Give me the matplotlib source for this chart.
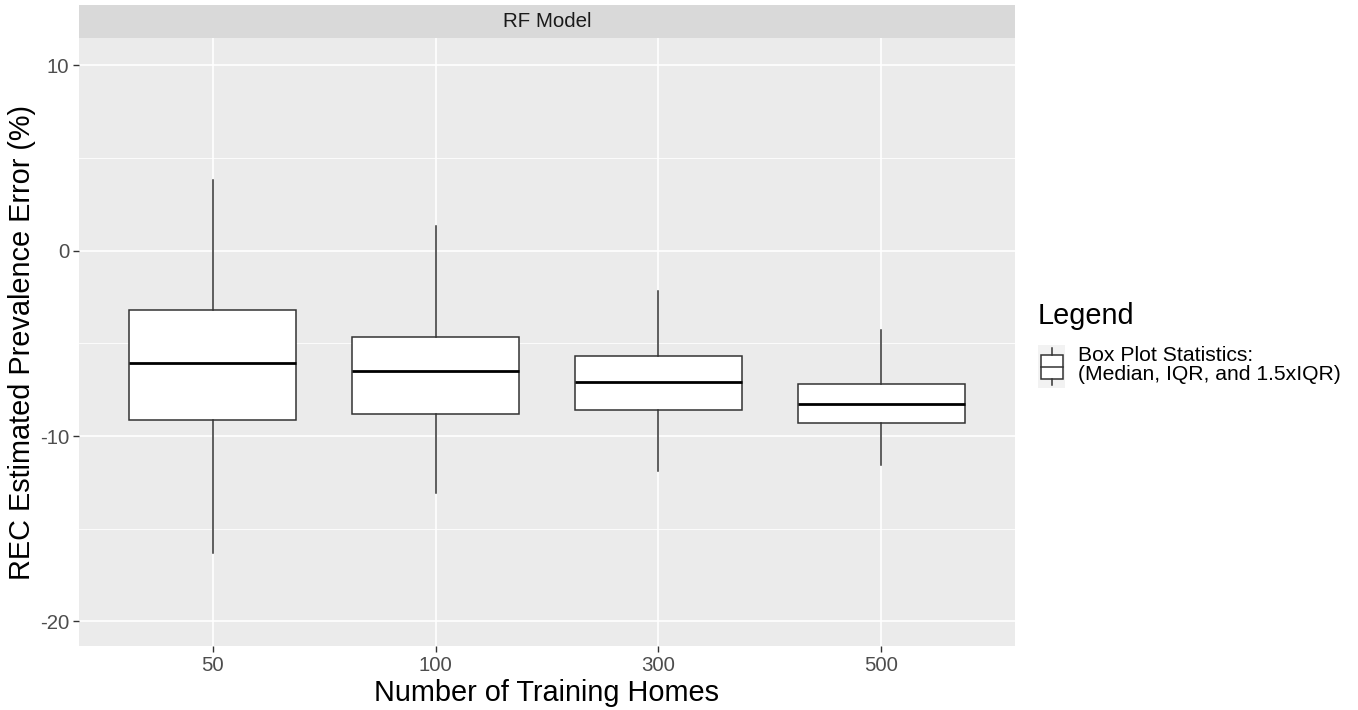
import matplotlib.pyplot as plt
from matplotlib.legend_handler import HandlerBase
from matplotlib.patches import Rectangle
from matplotlib.lines import Line2D

plt.rcParams['font.family'] = ['Liberation Sans', 'DejaVu Sans']
plt.rcParams['axes.unicode_minus'] = False

categorias = ['50', '100', '300', '500']
bigote_sup = [3.82, 1.31, -2.17, -4.28]
q3 = [-3.2, -4.63, -5.68, -7.19]
mediana = [-6.06, -6.47, -7.06, -8.27]
q1 = [-9.13, -8.8, -8.6, -9.3]
bigote_inf = [-16.3, -13.1, -11.9, -11.56]

stats = []
for i in range(len(categorias)):
    stats.append({'label': categorias[i], 'whishi': bigote_sup[i], 'q3': q3[i],
                  'med': mediana[i], 'q1': q1[i], 'whislo': bigote_inf[i], 'fliers': []})

fig = plt.figure(figsize=(13.58, 7.10), dpi=100)
ax = fig.add_axes([79 / 1358, 1 - 646 / 710, (1015 - 79) / 1358, (646 - 38) / 710])
ax.set_facecolor('#EBEBEB')

ax.bxp(stats, positions=range(1, 5), widths=0.75, patch_artist=True, showcaps=False,
       boxprops=dict(facecolor='white', edgecolor='#333333', linewidth=1.1),
       whiskerprops=dict(color='#333333', linewidth=1.1),
       medianprops=dict(color='black', linewidth=2.0), zorder=3)

ax.set_xlim(0.4, 4.6)
ax.set_ylim(-21.33, 11.48)
ax.set_yticks([-20, -10, 0, 10])
ax.set_yticks([-15, -5, 5], minor=True)
ax.set_xticks(range(1, 5))
ax.set_xticklabels(categorias)
ax.grid(True, which='major', color='white', linewidth=1.2, zorder=0)
ax.grid(True, which='minor', axis='y', color='white', linewidth=0.6, zorder=0)
ax.set_axisbelow(True)
for s in ax.spines.values():
    s.set_visible(False)
ax.tick_params(axis='both', which='major', colors='#333333', labelcolor='#4D4D4D',
               labelsize=14.7, length=4, width=1, pad=3)
ax.tick_params(axis='y', which='minor', length=0)
ax.set_xlabel('Number of Training Homes', fontsize=20.8, labelpad=3)
ax.set_ylabel('REC Estimated Prevalence Error (%)', fontsize=20.8, labelpad=3)

# franja del facet
tira = fig.add_axes([79 / 1358, 1 - 38 / 710, (1015 - 79) / 1358, 33 / 710])
tira.set_facecolor('#D9D9D9')
tira.set_xticks([])
tira.set_yticks([])
for s in tira.spines.values():
    s.set_visible(False)
tira.text(0.5, 0.5, 'RF Model', ha='center', va='center', fontsize=14.8, color='#1A1A1A')


class HandlerCaja(HandlerBase):
    def create_artists(self, legend, orig_handle, xdescent, ydescent, width, height, fontsize, trans):
        x0 = -xdescent
        y0 = -ydescent
        fondo = Rectangle((x0, y0), width, height, facecolor='#F2F2F2',
                          edgecolor='none', transform=trans)
        cx = x0 + width / 2
        w = width * 0.8
        caja = Rectangle((cx - w / 2, y0 + height * 0.21), w, height * 0.56,
                         facecolor='white', edgecolor='#333333', linewidth=1.1, transform=trans)
        med = Line2D([cx - w / 2, cx + w / 2], [y0 + height * 0.48] * 2,
                     color='#333333', linewidth=1.1, transform=trans)
        b1 = Line2D([cx, cx], [y0 + height * 0.77, y0 + height * 0.93],
                    color='#333333', linewidth=1.1, transform=trans)
        b2 = Line2D([cx, cx], [y0 + height * 0.07, y0 + height * 0.21],
                    color='#333333', linewidth=1.1, transform=trans)
        return [fondo, caja, med, b1, b2]


leg = fig.legend([object()], ['Box Plot Statistics:\n(Median, IQR, and 1.5xIQR)'],
                 handler_map={object: HandlerCaja()}, title='Legend',
                 loc='upper left', bbox_to_anchor=(1038 / 1358, 1 - 302 / 710),
                 frameon=False, fontsize=15.2, title_fontsize=20.8, borderpad=0,
                 borderaxespad=0, handlelength=1.29, handleheight=2.76,
                 handletextpad=0.6, labelspacing=0.7)
leg._legend_box.align = 'left'
for t in leg.get_texts():
    t.set_linespacing(1.0)

fig.savefig('out.png', dpi=100)
